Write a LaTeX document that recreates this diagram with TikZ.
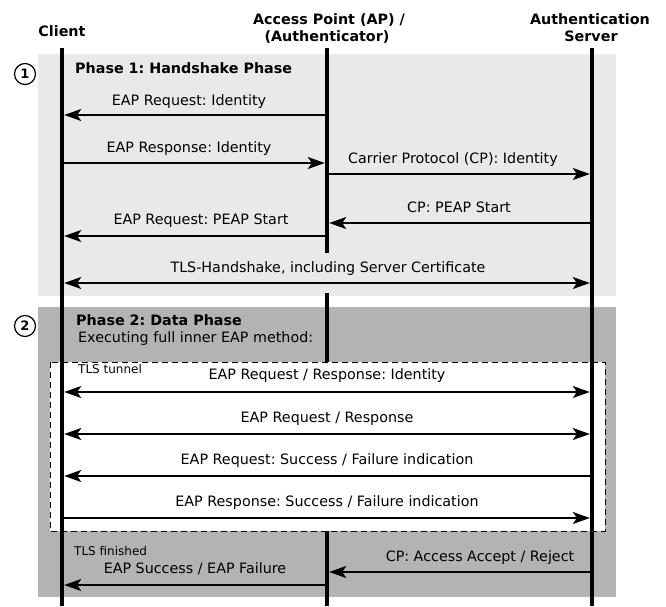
\documentclass[tikz,border=0pt]{standalone}
\usepackage{fontspec}
\setmainfont{DejaVu Sans}
\usetikzlibrary{arrows.meta}
\definecolor{phaseone}{HTML}{E9E9E9}
\definecolor{phasetwo}{HTML}{B3B3B3}
\frenchspacing
\begin{document}
\begin{tikzpicture}[x=1pt,y=-1pt,
  life/.style={line width=4.5pt},
  tip/.tip={Stealth[length=17pt,width=12pt,inset=4pt]},
  msg/.style={line width=1.6pt,-tip,shorten >=2.2pt,shorten <=2.2pt},
  bimsg/.style={msg,tip-tip},
  lbl/.style={anchor=base,inner sep=0pt,font=\fontsize{14.3}{17}\selectfont},
  hdr/.style={anchor=base,inner sep=0pt,font=\fontsize{14.3}{17}\selectfont\bfseries},
  ttl/.style={anchor=base west,inner sep=0pt,font=\fontsize{14.3}{17}\selectfont\bfseries},
  txt/.style={anchor=base west,inner sep=0pt,font=\fontsize{14.3}{17}\selectfont},
  smalltxt/.style={anchor=base west,inner sep=0pt,font=\fontsize{12}{14}\selectfont},
  num/.style={circle,draw,line width=1.2pt,minimum size=21pt,inner sep=0pt,font=\fontsize{13}{15}\selectfont\bfseries},
]
\useasboundingbox (0,0) rectangle (666,606);
% phase backgrounds
\fill[phaseone] (38,54) rectangle (616,296);
\fill[phasetwo] (38,307) rectangle (616,597);
% headers
\node[hdr] (hC) at (62,36) {Client};
\node[hdr] (hA1) at (329,24) {Access Point (AP) /};
\node[hdr] (hA2) at (327,41) {(Authenticator)};
\node[hdr] (hS1) at (590,24) {Authentication};
\node[hdr] (hS2) at (591,41) {Server};
% lifeline coordinates
\coordinate (Ctop) at (62,48);   \coordinate (Cbot) at (62,606);
\coordinate (Atop) at (327,48);  \coordinate (Aend) at (327,253);
\coordinate (Arst) at (327,293); \coordinate (Abot) at (327,606);
\coordinate (Stop) at (592,48);  \coordinate (Sbot) at (592,606);
% AP lifeline (hidden by tunnel)
\draw[life] (Atop) -- (Aend);
\draw[life] (Arst) -- (Abot);
% TLS tunnel
\draw[dash pattern=on 6pt off 4pt,line width=1pt,fill=white] (50,362) rectangle (605,531);
% client & server lifelines
\draw[life] (Ctop) -- (Cbot);
\draw[life] (Stop) -- (Sbot);
% phase markers
\node[num] (n1) at (25,74) {1};
\node[num] (n2) at (25,326) {2};
% titles
\node[ttl] (t1) at (75,73) {Phase 1: Handshake Phase};
\node[ttl] (t2) at (76,325) {Phase 2: Data Phase};
\node[txt] (t3) at (78,342) {Executing full inner EAP method:};
\node[smalltxt] (t4) at (78,373) {TLS tunnel};
\node[smalltxt] (t5) at (74,555) {TLS finished};
% message end points
\coordinate (a1) at (327,115); \coordinate (c1) at (62,115);
\coordinate (c2) at (62,163);  \coordinate (a2) at (327,163);
\coordinate (a3) at (327,174); \coordinate (s3) at (592,174);
\coordinate (s4) at (592,223); \coordinate (a4) at (327,223);
\coordinate (a5) at (327,236); \coordinate (c5) at (62,236);
\coordinate (c6) at (62,283);  \coordinate (s6) at (592,283);
\coordinate (c7) at (62,392);  \coordinate (s7) at (592,392);
\coordinate (c8) at (62,434);  \coordinate (s8) at (592,434);
\coordinate (s9) at (592,476); \coordinate (c9) at (62,476);
\coordinate (c10) at (62,518); \coordinate (s10) at (592,518);
\coordinate (s11) at (592,572); \coordinate (a11) at (327,572);
\coordinate (a12) at (327,585); \coordinate (c12) at (62,585);
% messages
\draw[msg] (a1) -- (c1);
\draw[msg] (c2) -- (a2);
\draw[msg] (a3) -- (s3);
\draw[msg] (s4) -- (a4);
\draw[msg] (a5) -- (c5);
\draw[bimsg] (c6) -- (s6);
\draw[bimsg] (c7) -- (s7);
\draw[bimsg] (c8) -- (s8);
\draw[msg] (s9) -- (c9);
\draw[msg] (c10) -- (s10);
\draw[msg] (s11) -- (a11);
\draw[msg] (a12) -- (c12);
% labels
\node[lbl] (l1) at (189,105) {EAP Request: Identity};
\node[lbl] (l2) at (189,152) {EAP Response: Identity};
\node[lbl] (l3) at (453,163) {Carrier Protocol (CP): Identity};
\node[lbl] (l4) at (459,212) {CP: PEAP Start};
\node[lbl] (l5) at (201,224) {EAP Request: PEAP Start};
\node[lbl] (l6) at (328,272) {TLS-Handshake, including Server Certificate};
\node[lbl] (l7) at (327,379) {EAP Request / Response: Identity};
\node[lbl] (l8) at (327,422) {EAP Request / Response};
\node[lbl] (l9) at (327,464) {EAP Request: Success / Failure indication};
\node[lbl] (l10) at (327,506) {EAP Response: Success / Failure indication};
\node[lbl] (l11) at (480,561) {CP: Access Accept / Reject};
\node[lbl] (l12) at (195,573) {EAP Success / EAP Failure};
\end{tikzpicture}
\end{document}
